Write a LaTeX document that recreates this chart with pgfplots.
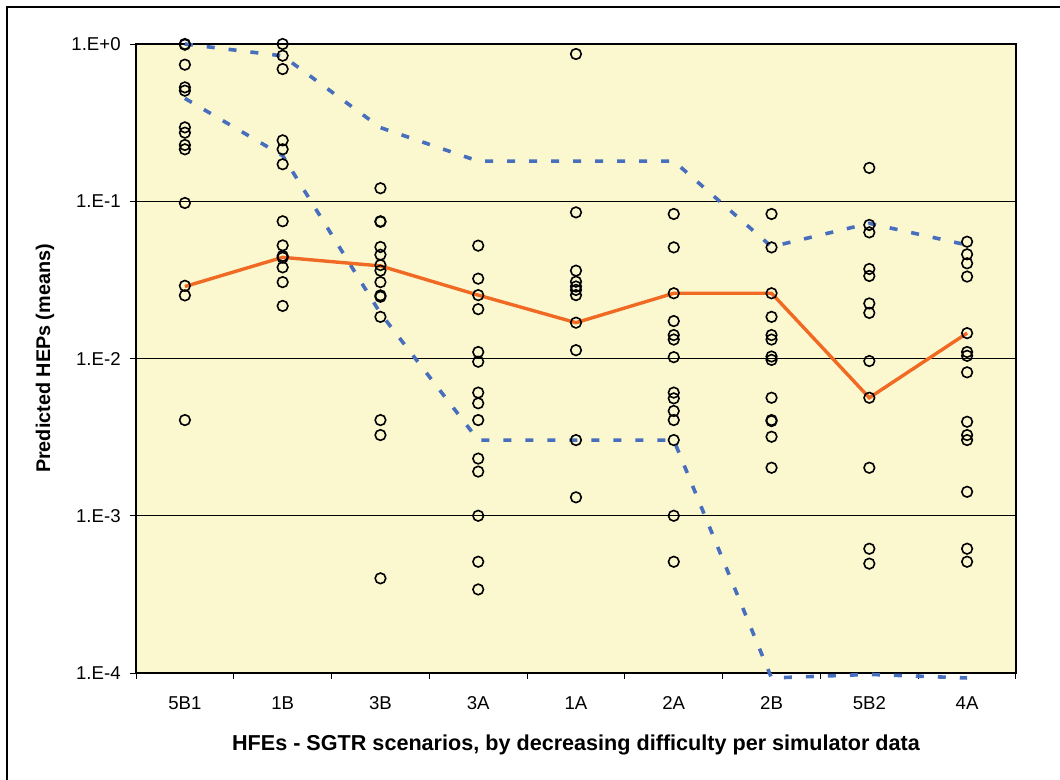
\documentclass[border=0pt]{standalone}
\usepackage{pgfplots}
\pgfplotsset{compat=1.18}
\usepackage{fontspec}
\setmainfont{Liberation Sans}

\definecolor{plotbg}{RGB}{251,248,208}
\definecolor{meanline}{RGB}{240,106,36}
\definecolor{boundline}{RGB}{72,110,190}

% predicted HEP means per scenario (x = scenario index)
\pgfplotstableread{
x y
0 1.0
0 0.99
0 0.739
0 0.530
0 0.505
0 0.295
0 0.273
0 0.228
0 0.214
0 0.0975
0 0.0290
0 0.0252
0 0.00406
1 1.0
1 0.843
1 0.693
1 0.244
1 0.214
1 0.172
1 0.0746
1 0.0524
1 0.0449
1 0.0438
1 0.038
1 0.0306
1 0.0216
2 0.121
2 0.0746
2 0.0740
2 0.0512
2 0.0457
2 0.0393
2 0.0362
2 0.0306
2 0.0252
2 0.0247
2 0.0184
2 0.00406
2 0.00326
2 0.0004
3 0.0522
3 0.0322
3 0.0253
3 0.0206
3 0.0110
3 0.00954
3 0.00607
3 0.00519
3 0.00406
3 0.00231
3 0.00191
3 0.001
3 0.00051
3 0.00034
4 0.864
4 0.0850
4 0.0362
4 0.0308
4 0.0287
4 0.0273
4 0.0253
4 0.0169
4 0.0113
4 0.00303
4 0.00131
5 0.0830
5 0.0509
5 0.026
5 0.0173
5 0.0141
5 0.0132
5 0.0102
5 0.00607
5 0.00558
5 0.00464
5 0.00406
5 0.00303
5 0.001
5 0.00051
6 0.0830
6 0.0509
6 0.026
6 0.0184
6 0.0141
6 0.0132
6 0.0103
6 0.0098
6 0.00563
6 0.00406
6 0.00400
6 0.00318
6 0.00202
7 0.163
7 0.0707
7 0.0634
7 0.0371
7 0.0335
7 0.0224
7 0.0195
7 0.00964
7 0.00563
7 0.00202
7 0.000617
7 0.000496
8 0.0553
8 0.0460
8 0.0403
8 0.0332
8 0.0145
8 0.0110
8 0.0104
8 0.00817
8 0.00396
8 0.00326
8 0.00303
8 0.00142
8 0.000617
8 0.00051
}\heps

\begin{document}
\begin{tikzpicture}
\path[use as bounding box] (-68bp,-53.5bp) rectangle (462bp,336.5bp);
% outer frame (left and top edges)
\draw[black, line width=0.6bp] (-64.5bp,-53.5bp) -- (-64.5bp,333bp) -- (462bp,333bp);
\begin{axis}[
  at={(0,0)}, anchor=south west,
  scale only axis,
  width=440bp, height=314.5bp,
  clip=false,
  ymode=log,
  ymin=1e-4, ymax=1,
  xmin=-0.5, xmax=8.5,
  axis background/.style={fill=plotbg},
  axis line style={black, line width=0.7bp},
  font=\fontsize{9.3bp}{11bp}\selectfont,
  ytick={1e-4,1e-3,1e-2,1e-1,1},
  yticklabels={1.E-4,1.E-3,1.E-2,1.E-1,1.E+0},
  ytick pos=left,
  yminorticks=false,
  ymajorgrids,
  major grid style={black, line width=0.5bp},
  tick align=outside,
  major tick length=3bp,
  tick style={black, line width=0.5bp},
  yticklabel style={anchor=east, inner sep=0pt, xshift=-4.5bp},
  xtick={-0.5,0.5,...,8.5},
  xticklabels={},
  xtick pos=bottom,
  extra x ticks={0,1,2,3,4,5,6,7,8},
  extra x tick labels={5B1,1B,3B,3A,1A,2A,2B,5B2,4A},
  extra x tick style={major tick length=0pt, grid=none,
    tick label style={anchor=center, inner sep=0pt, yshift=-15bp}},
  xlabel={\bfseries\fontsize{10.8bp}{13bp}\selectfont HFEs - SGTR scenarios, by decreasing difficulty per simulator data},
  xlabel style={at={(axis description cs:0.5,-0.1145)}, anchor=center, inner sep=0pt},
  ylabel={\bfseries\fontsize{9.9bp}{12bp}\selectfont Predicted HEPs (means)},
  ylabel style={at={(axis description cs:-0.1034,0.5)}, anchor=center, inner sep=0pt},
]
% upper and lower bounds
\addplot[boundline, line width=1.8bp, dash pattern=on 4bp off 7bp] coordinates {
  (0,1.0) (1,0.84) (2,0.294) (3,0.18) (4,0.18) (5,0.18) (6,0.0514) (7,0.0724) (8,0.0527)};
\addplot[boundline, line width=1.8bp, dash pattern=on 4bp off 7bp] coordinates {
  (0,0.451) (1,0.195) (2,0.0194) (3,0.00303) (4,0.00303) (5,0.00303) (6,9.3e-5) (7,9.8e-5) (8,9.3e-5)};
% mean of the predictions
\addplot[meanline, line width=1.7bp] coordinates {
  (0,0.0287) (1,0.044) (2,0.0388) (3,0.0253) (4,0.0169) (5,0.026) (6,0.026) (7,0.00563) (8,0.0145)};
% individual predictions
\addplot[only marks, mark=o, mark size=2.65bp, black, mark options={line width=0.8bp}] table[x=x, y=y] {\heps};
\end{axis}
\end{tikzpicture}
\end{document}
